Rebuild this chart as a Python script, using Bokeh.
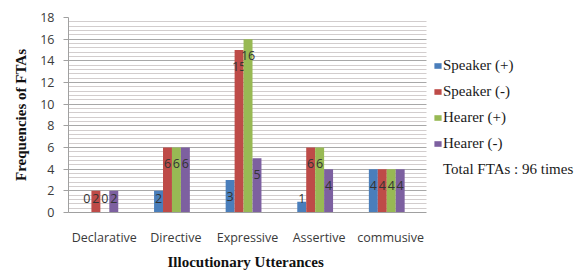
import numpy as np
from bokeh.plotting import figure
from bokeh.models import (Range1d, FixedTicker, SingleIntervalTicker, Legend, LegendItem,
                          BoxAnnotation, Title)
from bokeh.core.properties import value
from bokeh.embed import file_html
from bokeh.resources import INLINE

# ---- data ----
categories = ["Declarative", "Directive", "Expressive", "Assertive", "commusive"]
series_names = ["Speaker (+)", "Speaker (-)", "Hearer (+)", "Hearer (-)"]
speaker_pos = [0, 2, 3, 1, 4]
speaker_neg = [2, 6, 15, 6, 4]
hearer_pos = [0, 6, 16, 6, 4]
hearer_neg = [2, 6, 5, 4, 4]
total_note = "Total FTAs : 96 times"
x_title = "Illocutionary Utterances"
y_title = "Frequencies of FTAs"

colors = ["#4A7EBB", "#BE4B48", "#98B954", "#7D60A0"]

n = len(categories)
cat_px = 71.6            # pixel width of one category slot
frame_px = 582 - 68      # frame spans to the right edge (legend lives inside it)
x_end = -0.5 + frame_px / cat_px

p = figure(width=582, height=272,
           x_range=Range1d(-0.5, x_end), y_range=Range1d(0, 18),
           output_backend="svg", toolbar_location=None,
           min_border_left=68, min_border_right=0,
           min_border_top=17, min_border_bottom=58)
p.outline_line_color = None
p.background_fill_color = "white"

yt = SingleIntervalTicker(interval=2, num_minor_ticks=5)
p.yaxis.ticker = yt
p.ygrid.ticker = yt
p.ygrid.grid_line_color = "#a8a8a8"
p.ygrid.minor_grid_line_color = "#d2cdcd"
p.xgrid.grid_line_color = None

# white cover so the gridlines stop at the end of the category area
p.add_layout(BoxAnnotation(left=n - 0.5, fill_color="white", fill_alpha=1.0,
                           line_color=None, level="underlay"))

p.xaxis.ticker = FixedTicker(ticks=list(range(n)))
p.xaxis.major_label_overrides = {i: c for i, c in enumerate(categories)}
p.xaxis.bounds = (-0.5, n - 0.5)

for ax in (p.xaxis[0], p.yaxis[0]):
    ax.axis_line_color = "#a0a0a0"
    ax.minor_tick_line_color = None
    ax.minor_tick_out = 0
    ax.minor_tick_in = 0
    ax.major_label_text_font = "Open Sans"
    ax.major_label_text_font_size = "12.5px"
    ax.major_label_text_color = "#3a3a3a"

p.xaxis.major_tick_line_color = None
p.xaxis.major_tick_out = 0
p.xaxis.major_tick_in = 0
p.xaxis.major_label_standoff = 16

p.yaxis.major_tick_line_color = "#a0a0a0"
p.yaxis.major_tick_out = 5
p.yaxis.major_tick_in = 0
p.yaxis.major_label_standoff = 9
p.yaxis.axis_label = y_title
p.yaxis.axis_label_standoff = 8
p.yaxis.axis_label_text_font = "Liberation Serif"
p.yaxis.axis_label_text_font_style = "bold"
p.yaxis.axis_label_text_font_size = "15px"
p.yaxis.axis_label_text_color = "#111111"

xt = Title(text=x_title, align="left", offset=99, standoff=6,
           text_font="Liberation Serif", text_font_style="bold",
           text_font_size="15px", text_color="#111111")
p.add_layout(xt, "below")

bw = 0.125
shift = -0.055
renderers = []
for k, (vals, col) in enumerate(zip([speaker_pos, speaker_neg, hearer_pos, hearer_neg], colors)):
    xs = np.arange(n) + shift + (k - 1.5) * bw
    r = p.vbar(x=xs, top=vals, width=bw, fill_color=col, line_color=None)
    renderers.append(r)
    ly = np.maximum(np.array(vals, dtype=float) - 1.5, 1.3)
    p.text(x=xs, y=ly, text=[str(v) for v in vals], text_align="center",
           text_baseline="middle", text_font=value("Open Sans"),
           text_font_size="12.5px", text_color="#333333")

blank = p.vbar(x=[], top=[], width=0.1, fill_alpha=0, line_alpha=0)
items = [LegendItem(label=s, renderers=[r]) for s, r in zip(series_names, renderers)]
items.append(LegendItem(label=total_note, renderers=[blank]))
legend = Legend(items=items, location=(365, 33))
legend.border_line_color = None
legend.background_fill_alpha = 0
legend.padding = 0
legend.margin = 0
legend.glyph_width = 9
legend.glyph_height = 7
legend.label_standoff = 1
legend.spacing = 6
legend.label_height = 20
legend.label_text_font = "Liberation Serif"
legend.label_text_font_size = "15px"
legend.label_text_color = "#1a1a1a"
p.add_layout(legend)

open("out.html", "w").write(file_html(p, INLINE))
